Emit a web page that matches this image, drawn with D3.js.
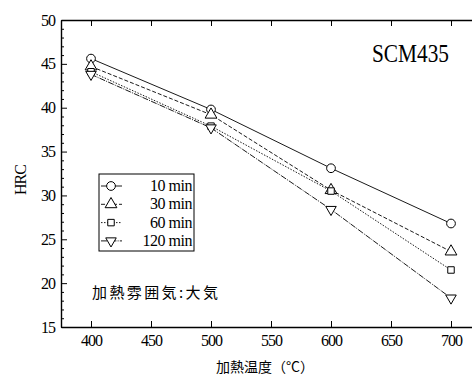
<!DOCTYPE html>
<html>
<head>
<meta charset="utf-8">
<title>SCM435 HRC</title>
<script src="https://cdn.jsdelivr.net/npm/d3@7"></script>
<style>
  body { margin: 0; background: #fff; }
  svg { display: block; }
</style>
</head>
<body>
<div id="chart"></div>
<script>
// temperatures (°C)
var temps = [400, 500, 600, 700];
var seriesNames = ["10 min", "30 min", "60 min", "120 min"];
var hrc10 = [45.6, 39.8, 33.1, 26.8];
var hrc30 = [44.7, 39.2, 30.6, 23.6];
var hrc60 = [44.1, 37.9, 30.5, 21.5];
var hrc120 = [43.8, 37.7, 28.4, 18.3];
var xTicks = [400, 450, 500, 550, 600, 650, 700];
var yTicks = [15, 20, 25, 30, 35, 40, 45, 50];

var allSeries = [hrc10, hrc30, hrc60, hrc120];
var symbols = [d3.symbolCircle, d3.symbolTriangle, d3.symbolSquare, "down"];
var dashes = [null, "4,2", "1.5,1.5", "6,1.2,1,1.2"];

var SERIF = "Liberation Serif";
var JP = "Noto Sans CJK JP";

var W = 472, H = 376;
var margin = {top: 20, right: 0, bottom: 49, left: 61};
var width = W - margin.left - margin.right;
var height = H - margin.top - margin.bottom;

var svg = d3.select("#chart").append("svg")
    .attr("width", W)
    .attr("height", H);
var g = svg.append("g")
    .attr("transform", "translate(" + margin.left + "," + margin.top + ")");

var x = d3.scaleLinear().domain([375, 717.5]).range([0, width]);
var y = d3.scaleLinear().domain([15, 50]).range([height, 0]);

// axes: ticks point inward
var xAxisBottom = g.append("g")
    .attr("transform", "translate(0," + height + ")")
    .call(d3.axisBottom(x).tickValues(xTicks).tickSizeInner(-6).tickSizeOuter(0).tickPadding(8));
var xAxisTop = g.append("g")
    .call(d3.axisTop(x).tickValues(xTicks).tickFormat("").tickSizeInner(-6).tickSizeOuter(0));
var yAxis = g.append("g")
    .call(d3.axisLeft(y).tickValues(yTicks).tickSizeInner(-6).tickSizeOuter(0).tickPadding(6));
// minor ticks every 1 HRC
g.append("g")
    .call(d3.axisLeft(y).tickValues(d3.range(15, 51, 1).filter(function(v) { return v % 5 != 0; }))
        .tickFormat("").tickSizeInner(-3).tickSizeOuter(0))
    .select(".domain").remove();

g.selectAll("g").attr("font-family", SERIF).attr("font-size", 16);
g.selectAll(".domain").attr("stroke", "#000").attr("stroke-width", 1.4);
g.selectAll(".tick line").attr("stroke", "#000").attr("stroke-width", 1);
g.selectAll(".tick text")
    .attr("font-family", SERIF)
    .attr("font-size", 16)
    .attr("letter-spacing", "-1")
    .attr("fill", "#000");

// symbol helper
function marker(sel, i) {
    if (symbols[i] == "down") {
        sel.attr("d", d3.symbol().type(d3.symbolTriangle).size(48)())
           .attr("transform", function() { return d3.select(this).attr("transform") + " rotate(180)"; });
    } else {
        var size = symbols[i] == d3.symbolSquare ? 42 : 60;
        sel.attr("d", d3.symbol().type(symbols[i]).size(size)());
    }
}

var line = d3.line()
    .x(function(d, i) { return x(temps[i]); })
    .y(function(d) { return y(d); });

allSeries.forEach(function(vals, i) {
    g.append("path")
        .datum(vals)
        .attr("d", line)
        .attr("fill", "none")
        .attr("stroke", "#000")
        .attr("stroke-width", 0.9)
        .attr("stroke-dasharray", dashes[i]);
});
allSeries.forEach(function(vals, i) {
    g.selectAll(".m" + i)
        .data(vals)
        .enter().append("path")
        .attr("class", "m" + i)
        .attr("transform", function(d, j) { return "translate(" + x(temps[j]) + "," + y(d) + ")"; })
        .attr("fill", "#fff")
        .attr("stroke", "#000")
        .attr("stroke-width", 1)
        .each(function() { marker(d3.select(this), i); });
});

// legend
var lg = svg.append("g").attr("transform", "translate(99,174)");
lg.append("rect")
    .attr("width", 95).attr("height", 77)
    .attr("fill", "#fff").attr("stroke", "#000").attr("stroke-width", 1);
seriesNames.forEach(function(name, i) {
    var ry = 12 + i * 18.3;
    lg.append("line")
        .attr("x1", 2).attr("x2", 23).attr("y1", ry).attr("y2", ry)
        .attr("stroke", "#000").attr("stroke-width", 0.9)
        .attr("stroke-dasharray", dashes[i]);
    lg.append("path")
        .attr("transform", "translate(12," + ry + ")")
        .attr("fill", "#fff").attr("stroke", "#000").attr("stroke-width", 1)
        .each(function() { marker(d3.select(this), i); });
    lg.append("text")
        .attr("x", 93).attr("y", ry + 5)
        .attr("text-anchor", "end")
        .attr("font-family", SERIF)
        .attr("font-size", 16)
        .attr("letter-spacing", "-0.5")
        .text(name);
});

// labels
svg.append("text")
    .attr("x", 372).attr("y", 62)
    .attr("textLength", 77)
    .attr("lengthAdjust", "spacingAndGlyphs")
    .attr("font-family", SERIF)
    .attr("font-size", 26)
    .text("SCM435");

svg.append("text")
    .attr("x", 92).attr("y", 298)
    .attr("textLength", 126)
    .attr("lengthAdjust", "spacing")
    .attr("font-family", JP)
    .attr("font-size", 15)
    .text("加熱雰囲気:大気");

svg.append("text")
    .attr("transform", "translate(26,180) rotate(-90)")
    .attr("text-anchor", "middle")
    .attr("font-family", SERIF)
    .attr("font-size", 16)
    .attr("letter-spacing", "-1")
    .text("HRC");

svg.append("text")
    .attr("x", 265).attr("y", 372)
    .attr("text-anchor", "middle")
    .attr("font-family", JP)
    .attr("font-size", 14)
    .text("加熱温度（°C）");
</script>
</body>
</html>
